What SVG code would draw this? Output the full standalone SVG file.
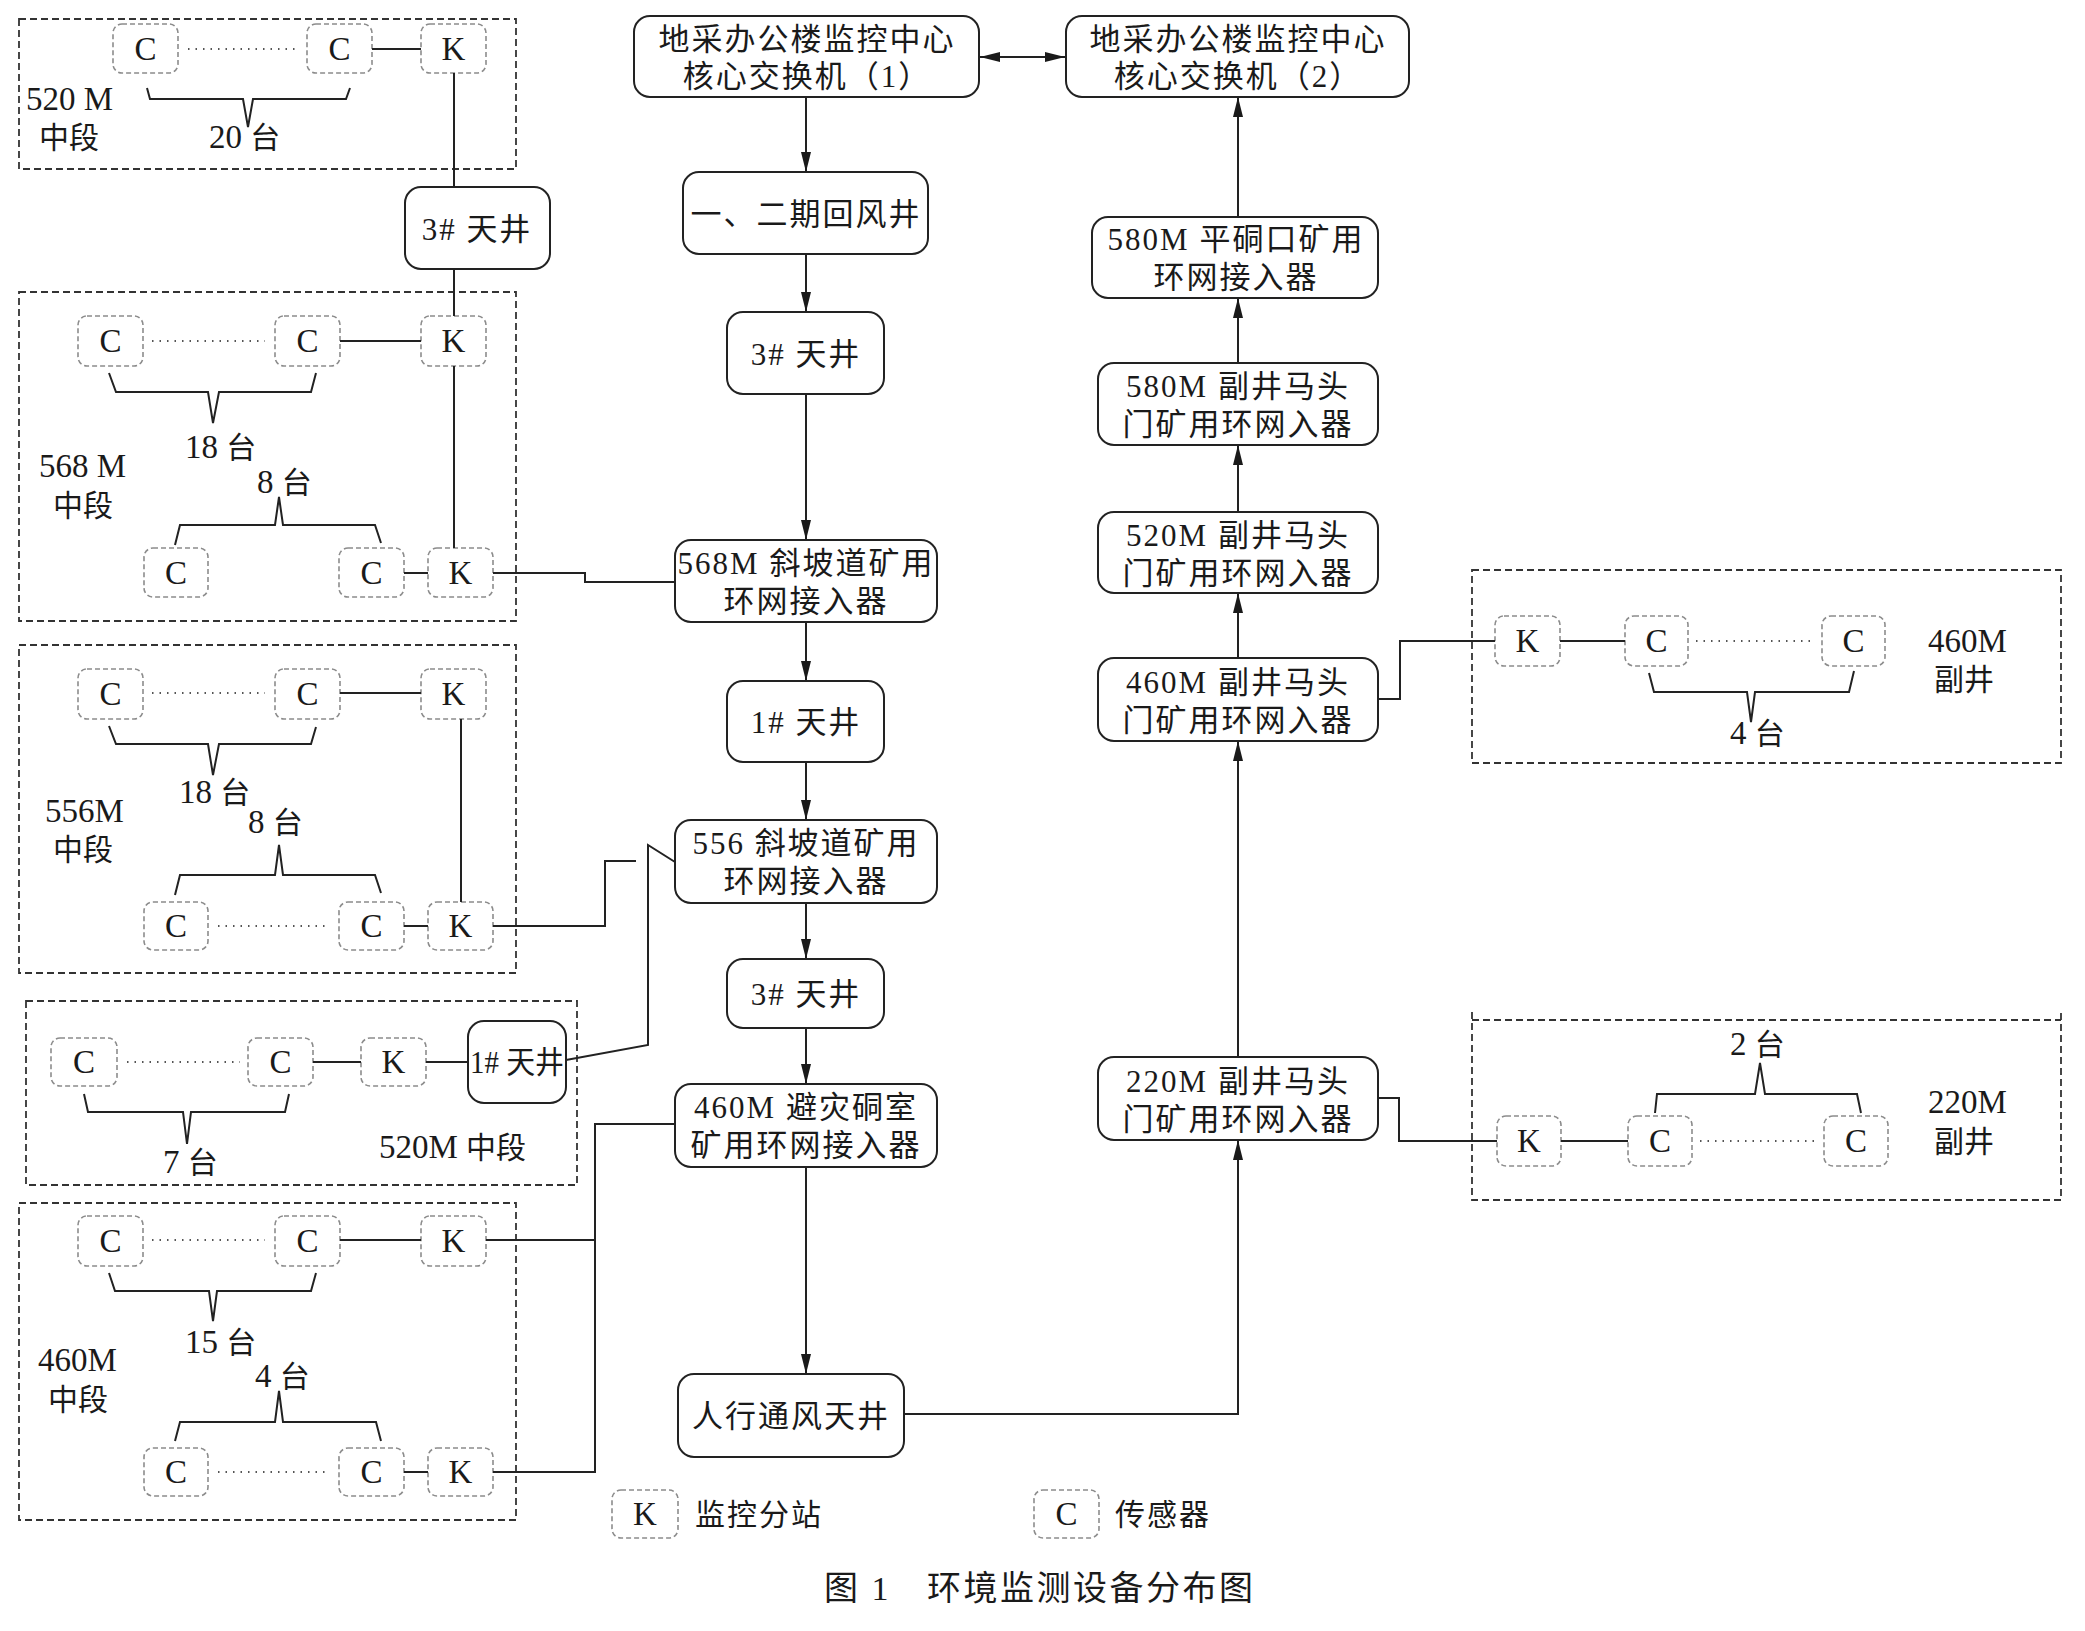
<svg xmlns="http://www.w3.org/2000/svg" width="2085" height="1631" viewBox="0 0 2085 1631">
<defs>
<style>
.bg{fill:#fff}
.node{fill:#fff;stroke:#222;stroke-width:2}
.sub{fill:#fff;stroke:#8c8c8c;stroke-width:1.6;stroke-dasharray:5 3}
.zone{fill:none;stroke:#333;stroke-width:1.8;stroke-dasharray:7 4}
.ln{stroke:#222;stroke-width:2;fill:none}
.dot{stroke:#555;stroke-width:2;stroke-dasharray:1.5 6;fill:none}
.t{font-family:"Liberation Serif","Noto Sans CJK SC",serif;font-size:31px;fill:#1a1a1a;letter-spacing:2px}
.m{text-anchor:middle}
.l{font-family:"Liberation Serif","Noto Sans CJK SC",serif;font-size:30px;fill:#1a1a1a}
.n{font-size:33px}
.ck{font-family:"Liberation Serif",serif;font-size:33px;fill:#1a1a1a;text-anchor:middle}
.ttl{font-family:"Liberation Serif","Noto Sans CJK SC",serif;font-size:34px;fill:#1a1a1a;letter-spacing:2.5px}
</style>
<marker id="ah" viewBox="0 0 20 10" refX="20" refY="5" markerWidth="20" markerHeight="10" orient="auto-start-reverse" markerUnits="userSpaceOnUse">
<path d="M0,0 L20,5 L0,10 z" fill="#1a1a1a"/>
</marker>
</defs>
<rect class="bg" x="0" y="0" width="2085" height="1631"/>

<!-- zones -->
<g id="zone-520-top">
<rect class="zone" x="19" y="19" width="497" height="150"/>
<text class="l" x="26" y="110"><tspan class="n">520 M</tspan></text>
<text class="l" x="39" y="148">中段</text>
<text class="l" x="209" y="148"><tspan class="n">20 </tspan>台</text>
<polyline class="ln" points="147,88 150,99 243,99 248,127 253,99 346,99 350,88"/>
<rect class="sub" x="113" y="24" width="65" height="49" rx="9"/><text class="ck" x="145.5" y="60">C</text>
<rect class="sub" x="307" y="24" width="65" height="49" rx="9"/><text class="ck" x="339.5" y="60">C</text>
<rect class="sub" x="421" y="24" width="65" height="49" rx="9"/><text class="ck" x="453.5" y="60">K</text>
<line class="dot" x1="188" y1="49" x2="298" y2="49"/>
</g>

<g id="zone-568">
<rect class="zone" x="19" y="292" width="497" height="329"/>
<text class="l" x="185" y="458"><tspan class="n">18 </tspan>台</text>
<text class="l" x="39" y="477"><tspan class="n">568 M</tspan></text>
<text class="l" x="53" y="516">中段</text>
<text class="l" x="257" y="493"><tspan class="n">8 </tspan>台</text>
<polyline class="ln" points="109,373 116,392 208,392 213,423 219,392 311,392 316,373"/>
<polyline class="ln" points="175,545 180,525 275,525 279,497 283,525 375,525 381,543"/>
<rect class="sub" x="78" y="316" width="65" height="50" rx="9"/><text class="ck" x="110.5" y="352">C</text>
<rect class="sub" x="275" y="316" width="65" height="50" rx="9"/><text class="ck" x="307.5" y="352">C</text>
<rect class="sub" x="421" y="316" width="65" height="50" rx="9"/><text class="ck" x="453.5" y="352">K</text>
<line class="dot" x1="152" y1="341" x2="265" y2="341"/>
<rect class="sub" x="144" y="548" width="64" height="49" rx="9"/><text class="ck" x="176" y="584">C</text>
<rect class="sub" x="339" y="548" width="65" height="49" rx="9"/><text class="ck" x="371.5" y="584">C</text>
<rect class="sub" x="428" y="548" width="65" height="49" rx="9"/><text class="ck" x="460.5" y="584">K</text>
</g>

<g id="zone-556">
<rect class="zone" x="19" y="645" width="497" height="328"/>
<text class="l" x="179" y="803"><tspan class="n">18 </tspan>台</text>
<text class="l" x="45" y="822"><tspan class="n">556M</tspan></text>
<text class="l" x="53" y="860">中段</text>
<text class="l" x="248" y="833"><tspan class="n">8 </tspan>台</text>
<polyline class="ln" points="109,726 116,744 208,744 213,775 219,744 311,744 316,727"/>
<polyline class="ln" points="175,895 180,875 275,875 279,845 283,875 375,875 381,893"/>
<rect class="sub" x="78" y="669" width="65" height="50" rx="9"/><text class="ck" x="110.5" y="705">C</text>
<rect class="sub" x="275" y="669" width="65" height="50" rx="9"/><text class="ck" x="307.5" y="705">C</text>
<rect class="sub" x="421" y="669" width="65" height="50" rx="9"/><text class="ck" x="453.5" y="705">K</text>
<line class="dot" x1="152" y1="693" x2="265" y2="693"/>
<rect class="sub" x="144" y="902" width="64" height="48" rx="9"/><text class="ck" x="176" y="937">C</text>
<rect class="sub" x="339" y="902" width="65" height="48" rx="9"/><text class="ck" x="371.5" y="937">C</text>
<rect class="sub" x="428" y="902" width="65" height="48" rx="9"/><text class="ck" x="460.5" y="937">K</text>
<line class="dot" x1="218" y1="926" x2="330" y2="926"/>
</g>

<g id="zone-520-low">
<rect class="zone" x="26" y="1001" width="551" height="184"/>
<text class="l" x="163" y="1173"><tspan class="n">7 </tspan>台</text>
<text class="l" x="379" y="1158"><tspan class="n">520M </tspan>中段</text>
<polyline class="ln" points="84,1094 88,1112 183,1112 187,1144 191,1112 285,1112 289,1094"/>
<rect class="sub" x="51" y="1038" width="66" height="48" rx="9"/><text class="ck" x="84" y="1073">C</text>
<rect class="sub" x="248" y="1038" width="65" height="48" rx="9"/><text class="ck" x="280.5" y="1073">C</text>
<rect class="sub" x="361" y="1038" width="65" height="48" rx="9"/><text class="ck" x="393.5" y="1073">K</text>
<line class="dot" x1="127" y1="1062" x2="240" y2="1062"/>
</g>

<g id="zone-460">
<rect class="zone" x="19" y="1203" width="497" height="317"/>
<text class="l" x="185" y="1353"><tspan class="n">15 </tspan>台</text>
<text class="l" x="38" y="1371"><tspan class="n">460M</tspan></text>
<text class="l" x="48" y="1410">中段</text>
<text class="l" x="255" y="1387"><tspan class="n">4 </tspan>台</text>
<polyline class="ln" points="109,1273 115,1291 209,1291 213,1321 217,1291 311,1291 316,1273"/>
<polyline class="ln" points="175,1441 180,1422 275,1422 279,1391 283,1422 376,1422 381,1441"/>
<rect class="sub" x="78" y="1216" width="65" height="50" rx="9"/><text class="ck" x="110.5" y="1252">C</text>
<rect class="sub" x="275" y="1216" width="65" height="50" rx="9"/><text class="ck" x="307.5" y="1252">C</text>
<rect class="sub" x="421" y="1216" width="65" height="50" rx="9"/><text class="ck" x="453.5" y="1252">K</text>
<line class="dot" x1="152" y1="1240" x2="265" y2="1240"/>
<rect class="sub" x="144" y="1448" width="64" height="48" rx="9"/><text class="ck" x="176" y="1483">C</text>
<rect class="sub" x="339" y="1448" width="65" height="48" rx="9"/><text class="ck" x="371.5" y="1483">C</text>
<rect class="sub" x="428" y="1448" width="65" height="48" rx="9"/><text class="ck" x="460.5" y="1483">K</text>
<line class="dot" x1="218" y1="1472" x2="330" y2="1472"/>
</g>

<g id="zone-460-fujing">
<rect class="zone" x="1472" y="570" width="589" height="193"/>
<text class="l" x="1730" y="744"><tspan class="n">4 </tspan>台</text>
<text class="l" x="1928" y="652"><tspan class="n">460M</tspan></text>
<text class="l" x="1934" y="690">副井</text>
<polyline class="ln" points="1649,673 1654,692 1747,692 1751,722 1755,692 1849,692 1854,671"/>
<rect class="sub" x="1495" y="616" width="65" height="50" rx="9"/><text class="ck" x="1527.5" y="652">K</text>
<rect class="sub" x="1625" y="616" width="63" height="50" rx="9"/><text class="ck" x="1656.5" y="652">C</text>
<rect class="sub" x="1822" y="616" width="63" height="50" rx="9"/><text class="ck" x="1853.5" y="652">C</text>
<line class="dot" x1="1696" y1="641" x2="1815" y2="641"/>
</g>

<g id="zone-220-fujing">
<path class="zone" d="M1472,1020 H2061 M1472,1012 V1200 H2061 V1012"/>
<text class="l" x="1730" y="1055"><tspan class="n">2 </tspan>台</text>
<text class="l" x="1928" y="1113"><tspan class="n">220M</tspan></text>
<text class="l" x="1934" y="1152">副井</text>
<polyline class="ln" points="1655,1113 1657,1094 1755,1094 1760,1063 1765,1094 1857,1094 1861,1113"/>
<rect class="sub" x="1497" y="1116" width="64" height="50" rx="9"/><text class="ck" x="1529" y="1152">K</text>
<rect class="sub" x="1628" y="1116" width="64" height="50" rx="9"/><text class="ck" x="1660" y="1152">C</text>
<rect class="sub" x="1824" y="1116" width="64" height="50" rx="9"/><text class="ck" x="1856" y="1152">C</text>
<line class="dot" x1="1700" y1="1141" x2="1816" y2="1141"/>
</g>

<!-- connectors -->
<g id="connectors">
<line class="ln" x1="372" y1="49" x2="421" y2="49"/>
<line class="ln" x1="454" y1="73" x2="454" y2="187"/>
<line class="ln" x1="454" y1="269" x2="454" y2="316"/>
<line class="ln" x1="340" y1="341" x2="421" y2="341"/>
<line class="ln" x1="454" y1="366" x2="454" y2="548"/>
<line class="ln" x1="404" y1="573" x2="428" y2="573"/>
<polyline class="ln" points="493,573 585,573 585,582 675,582"/>
<line class="ln" x1="340" y1="693" x2="421" y2="693"/>
<line class="ln" x1="461" y1="719" x2="461" y2="902"/>
<line class="ln" x1="404" y1="926" x2="428" y2="926"/>
<polyline class="ln" points="493,926 605,926 605,861 636,861"/>
<polyline class="ln" points="566,1060 648,1045 648,845 675,862"/>
<line class="ln" x1="313" y1="1062" x2="361" y2="1062"/>
<line class="ln" x1="426" y1="1062" x2="468" y2="1062"/>
<line class="ln" x1="340" y1="1240" x2="421" y2="1240"/>
<line class="ln" x1="404" y1="1472" x2="428" y2="1472"/>
<polyline class="ln" points="486,1240 595,1240"/>
<polyline class="ln" points="493,1472 595,1472 595,1124 675,1124"/>
<line class="ln" x1="1560" y1="641" x2="1625" y2="641"/>
<polyline class="ln" points="1378,699 1400,699 1400,641 1495,641"/>
<line class="ln" x1="1561" y1="1141" x2="1628" y2="1141"/>
<polyline class="ln" points="1378,1098 1399,1098 1399,1141 1497,1141"/>
<line class="ln" x1="980" y1="57" x2="1065" y2="57" marker-start="url(#ah)" marker-end="url(#ah)"/>
<line class="ln" x1="806" y1="97" x2="806" y2="172" marker-end="url(#ah)"/>
<line class="ln" x1="806" y1="254" x2="806" y2="312" marker-end="url(#ah)"/>
<line class="ln" x1="806" y1="394" x2="806" y2="540" marker-end="url(#ah)"/>
<line class="ln" x1="806" y1="622" x2="806" y2="681" marker-end="url(#ah)"/>
<line class="ln" x1="806" y1="762" x2="806" y2="820" marker-end="url(#ah)"/>
<line class="ln" x1="806" y1="903" x2="806" y2="959" marker-end="url(#ah)"/>
<line class="ln" x1="806" y1="1028" x2="806" y2="1084" marker-end="url(#ah)"/>
<line class="ln" x1="806" y1="1167" x2="806" y2="1374" marker-end="url(#ah)"/>
<polyline class="ln" points="904,1414 1238,1414 1238,1140" marker-end="url(#ah)"/>
<line class="ln" x1="1238" y1="1057" x2="1238" y2="741" marker-end="url(#ah)"/>
<line class="ln" x1="1238" y1="658" x2="1238" y2="593" marker-end="url(#ah)"/>
<line class="ln" x1="1238" y1="512" x2="1238" y2="445" marker-end="url(#ah)"/>
<line class="ln" x1="1238" y1="363" x2="1238" y2="298" marker-end="url(#ah)"/>
<line class="ln" x1="1238" y1="217" x2="1238" y2="97" marker-end="url(#ah)"/>
</g>

<!-- nodes -->
<g id="n-3tianjing-left"><rect class="node" x="405" y="187" width="145" height="82" rx="16"/><text class="t m" x="477" y="240">3# 天井</text></g>
<g id="n-1tianjing-left"><rect class="node" x="468" y="1021" width="98" height="82" rx="16"/><text class="t" x="470" y="1073" style="letter-spacing:0" textLength="94" lengthAdjust="spacingAndGlyphs">1# 天井</text></g>

<g id="n-core1"><rect class="node" x="634" y="16" width="345" height="81" rx="16"/><text class="t m" x="807" y="50">地采办公楼监控中心</text><text class="t m" x="807" y="87">核心交换机（1）</text></g>
<g id="n-core2"><rect class="node" x="1066" y="16" width="343" height="81" rx="16"/><text class="t m" x="1238" y="50">地采办公楼监控中心</text><text class="t m" x="1238" y="87">核心交换机（2）</text></g>
<g id="n-huifengjing"><rect class="node" x="683" y="172" width="245" height="82" rx="16"/><text class="t m" x="806" y="225">一、二期回风井</text></g>
<g id="n-3tianjing-a"><rect class="node" x="727" y="312" width="157" height="82" rx="16"/><text class="t m" x="806" y="365">3# 天井</text></g>
<g id="n-568"><rect class="node" x="675" y="540" width="262" height="82" rx="16"/><text class="t m" x="806" y="574">568M 斜坡道矿用</text><text class="t m" x="806" y="612">环网接入器</text></g>
<g id="n-1tianjing"><rect class="node" x="727" y="681" width="157" height="81" rx="16"/><text class="t m" x="806" y="733">1# 天井</text></g>
<g id="n-556"><rect class="node" x="675" y="820" width="262" height="83" rx="16"/><text class="t m" x="806" y="854">556 斜坡道矿用</text><text class="t m" x="806" y="892">环网接入器</text></g>
<g id="n-3tianjing-b"><rect class="node" x="727" y="959" width="157" height="69" rx="16"/><text class="t m" x="806" y="1005">3# 天井</text></g>
<g id="n-460bizai"><rect class="node" x="675" y="1084" width="262" height="83" rx="16"/><text class="t m" x="806" y="1118">460M 避灾硐室</text><text class="t m" x="806" y="1156">矿用环网接入器</text></g>
<g id="n-renxing"><rect class="node" x="678" y="1374" width="226" height="83" rx="16"/><text class="t m" x="791" y="1427">人行通风天井</text></g>

<g id="n-580pingdong"><rect class="node" x="1092" y="217" width="286" height="81" rx="16"/><text class="t m" x="1236" y="250">580M 平硐口矿用</text><text class="t m" x="1236" y="288">环网接入器</text></g>
<g id="n-580fujing"><rect class="node" x="1098" y="363" width="280" height="82" rx="16"/><text class="t m" x="1238" y="397">580M 副井马头</text><text class="t m" x="1238" y="435">门矿用环网入器</text></g>
<g id="n-520fujing"><rect class="node" x="1098" y="512" width="280" height="81" rx="16"/><text class="t m" x="1238" y="546">520M 副井马头</text><text class="t m" x="1238" y="584">门矿用环网入器</text></g>
<g id="n-460fujing"><rect class="node" x="1098" y="658" width="280" height="83" rx="16"/><text class="t m" x="1238" y="693">460M 副井马头</text><text class="t m" x="1238" y="731">门矿用环网入器</text></g>
<g id="n-220fujing"><rect class="node" x="1098" y="1057" width="280" height="83" rx="16"/><text class="t m" x="1238" y="1092">220M 副井马头</text><text class="t m" x="1238" y="1130">门矿用环网入器</text></g>

<!-- legend -->
<g id="legend-k"><rect class="sub" x="612" y="1490" width="66" height="48" rx="9"/><text class="ck" x="645" y="1525">K</text><text class="l" x="695" y="1525" style="letter-spacing:2px">监控分站</text></g>
<g id="legend-c"><rect class="sub" x="1034" y="1490" width="65" height="48" rx="9"/><text class="ck" x="1066.5" y="1525">C</text><text class="l" x="1115" y="1525" style="letter-spacing:2px">传感器</text></g>

<text class="ttl" y="1600"><tspan x="824">图 1</tspan><tspan x="927">环境监测设备分布图</tspan></text>
</svg>
